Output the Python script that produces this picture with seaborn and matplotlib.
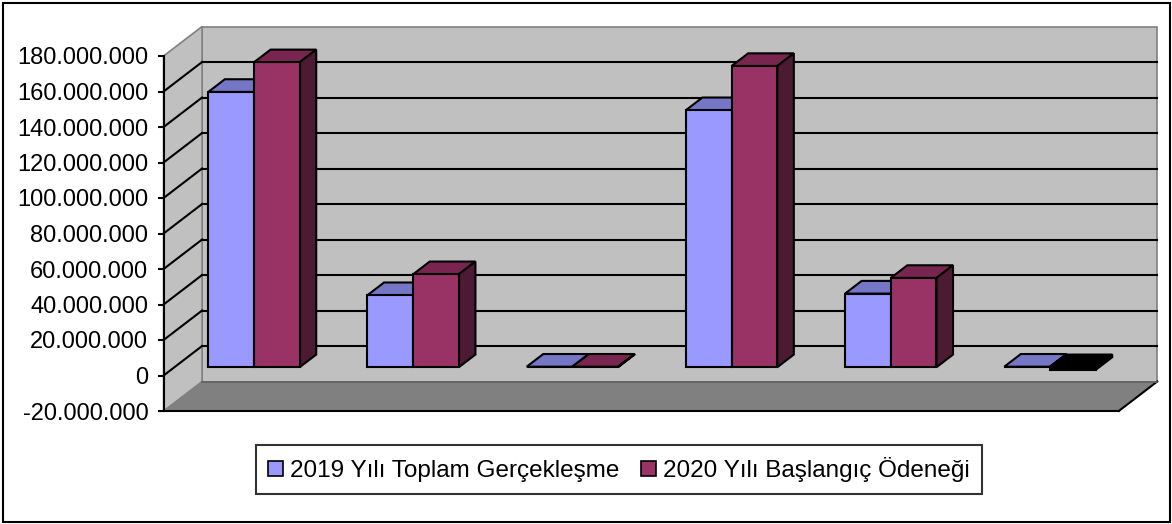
import matplotlib
matplotlib.use('Agg')
import matplotlib.pyplot as plt
import matplotlib.transforms as mtransforms
from matplotlib.patches import Polygon, Patch, Rectangle
from matplotlib.lines import Line2D
from matplotlib.ticker import FuncFormatter
import seaborn as sns
import pandas as pd
import numpy as np

# data (6 unnamed categories, 2 series)
categories = ['1', '2', '3', '4', '5', '6']
series_names = ['2019 Yılı Toplam Gerçekleşme', '2020 Yılı Başlangıç Ödeneği']
values_2019 = [155_100_000, 40_600_000, 300_000, 144_800_000, 41_500_000, 300_000]
values_2020 = [171_800_000, 52_400_000, 300_000, 169_700_000, 50_300_000, -1_500_000]
y_ticks = list(range(-20_000_000, 180_000_001, 20_000_000))

front_colors = {series_names[0]: '#9999FF', series_names[1]: '#993366'}
top_colors = {series_names[0]: '#7676C6', series_names[1]: '#782650'}
side_colors = {series_names[0]: '#4C4C80', series_names[1]: '#4D1A33'}

df = pd.DataFrame({
    'kategori': categories * 2,
    'seri': [series_names[0]] * 6 + [series_names[1]] * 6,
    'deger': values_2019 + values_2020,
})

plt.rcParams['font.family'] = ['Liberation Sans', 'DejaVu Sans']

fig = plt.figure(figsize=(11.72, 5.24), dpi=100)
ax = fig.add_axes([163.6 / 1172, 113 / 524, 955.2 / 1172, 355 / 524])

sns.barplot(data=df, x='kategori', y='deger', hue='seri', hue_order=series_names,
            palette=front_colors, saturation=1, width=0.574, errorbar=None, legend=False,
            edgecolor='black', linewidth=1.5, ax=ax, zorder=3)
ax.set_xlim(-0.5, 5.5)
ax.set_ylim(y_ticks[0], y_ticks[-1])
bars = list(ax.patches)

# 3D depth settings (pixels)
full_d = np.array([38.5, 29.5])     # wall depth
bar_off = full_d * 0.28             # bars sit a bit behind the front plane
bar_d = full_d * 0.43               # bar depth
ident = mtransforms.IdentityTransform()
to_px = ax.transData.transform


def poly(pts, fc, ec, lw, z):
    ax.add_patch(Polygon(pts, closed=True, facecolor=fc, edgecolor=ec, linewidth=lw,
                         transform=ident, clip_on=False, zorder=z, joinstyle='miter'))


def line(p0, p1, color, lw, z):
    ax.add_line(Line2D([p0[0], p1[0]], [p0[1], p1[1]], color=color, linewidth=lw,
                       transform=ident, clip_on=False, zorder=z))


x0, x1 = ax.get_xlim()
ylo, yhi = ax.get_ylim()
fl = to_px((x0, ylo))   # front-left bottom
fr = to_px((x1, ylo))   # front-right bottom
tl = to_px((x0, yhi))   # front-left top

# back wall
poly([fl + full_d, fr + full_d, (fr[0] + full_d[0], tl[1] + full_d[1]), tl + full_d],
     '#C0C0C0', '#808080', 1.2, 0.5)
# left side wall
poly([fl, fl + full_d, tl + full_d, tl], '#C0C0C0', '#808080', 1.2, 0.6)
# floor
poly([fl, fr, fr + full_d, fl + full_d], '#808080', 'none', 0, 0.7)
line(fl, fr, 'black', 1.5, 0.8)
line(fr, fr + full_d, 'black', 1.5, 0.8)
line(fl + full_d, fr + full_d, '#606060', 1.2, 0.8)

# gridlines on back wall and side wall
for t in y_ticks[1:-1]:
    p = to_px((x0, t))
    line(p, p + full_d, 'black', 1.5, 0.9)
    line(p + full_d, (fr[0] + full_d[0], p[1] + full_d[1]), 'black', 1.5, 0.9)

# shift bars into the 3D box and add top/side faces
shift = ax.transData + mtransforms.Affine2D().translate(*bar_off)
for i, b in enumerate(bars):
    name = series_names[i // len(categories)]
    b.set_transform(shift)
    (bx0, by0), (bx1, by1) = shift.transform([(b.get_x(), b.get_y()),
                                               (b.get_x() + b.get_width(), b.get_y() + b.get_height())])
    top = max(by0, by1)
    bot = min(by0, by1)
    negative = b.get_height() < 0
    if negative:
        b.set_facecolor('black')
    tc = 'black' if negative else top_colors[name]
    sc = 'black' if negative else side_colors[name]
    poly([(bx0, top), (bx1, top), (bx1 + bar_d[0], top + bar_d[1]), (bx0 + bar_d[0], top + bar_d[1])],
         tc, 'black', 1.5, 2.5)
    poly([(bx1, bot), (bx1, top), (bx1 + bar_d[0], top + bar_d[1]), (bx1 + bar_d[0], bot + bar_d[1])],
         sc, 'black', 1.5, 2.5)

# axes styling
for s in ['top', 'right', 'bottom']:
    ax.spines[s].set_visible(False)
ax.spines['left'].set_color('black')
ax.spines['left'].set_linewidth(1.5)
ax.spines['left'].set_zorder(5)
ax.patch.set_visible(False)
ax.set_xticks([])
ax.set_xlabel('')
ax.set_ylabel('')
ax.set_yticks(y_ticks)
ax.yaxis.set_major_formatter(FuncFormatter(lambda v, _: f'{v:,.0f}'.replace(',', '.')))
ax.tick_params(axis='y', direction='out', length=4, width=1.5, pad=7, labelsize=17, color='black')

handles = [Patch(facecolor=front_colors[n], edgecolor='black', linewidth=1.2) for n in series_names]
leg = fig.legend(handles, series_names, loc='center', bbox_to_anchor=(619 / 1172, 1 - 469.5 / 524),
                 ncol=2, fontsize=17.5, frameon=True, fancybox=False, handlelength=0.6,
                 handleheight=0.6, handletextpad=0.3, columnspacing=0.9, borderpad=0.5,
                 borderaxespad=0)
leg.get_frame().set_edgecolor('black')
leg.get_frame().set_linewidth(1.5)

# outer chart border
fig.add_artist(Rectangle((2.5 / 1172, 2.5 / 524), 1167 / 1172, 519 / 524, transform=fig.transFigure,
                         facecolor='none', edgecolor='black', linewidth=1.5))

fig.savefig('out.png', dpi=100)
